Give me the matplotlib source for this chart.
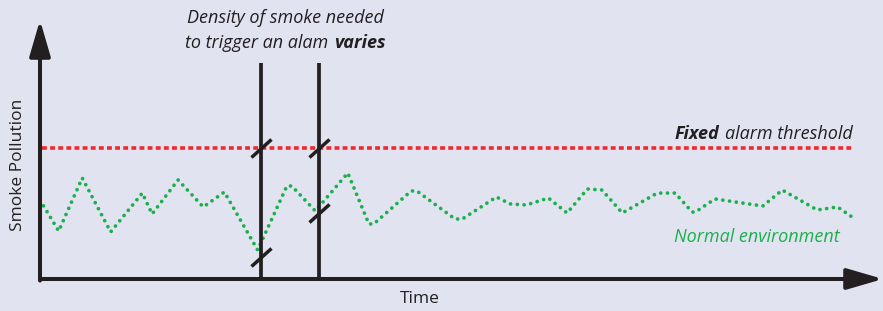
import matplotlib
matplotlib.use('Agg')
import matplotlib.pyplot as plt
from matplotlib.markers import MarkerStyle
from matplotlib.transforms import Affine2D
from matplotlib.offsetbox import TextArea, HPacker, VPacker, AnnotationBbox

# "Normal environment" smoke level over time (arbitrary units, threshold = 100)
time = [0, 2.3, 5.2, 8.7, 12.6, 13.8, 17.0, 20.1, 22.7, 26.8, 30.4, 31.0,
        33.9, 37.9, 40.5, 41.1, 45.7, 46.4, 51.1, 52.0, 56.2, 57.9, 59.9,
        62.6, 64.9, 67.4, 69.2, 71.7, 76.0, 78.2, 80.3, 80.7, 83.1, 89.0,
        91.4, 95.7, 98.2, 100]
pollution = [60.3, 36.6, 77.1, 35.9, 65.6, 49.6, 75.6, 55.0, 66.4, 22.1,
             71.0, 71.0, 51.9, 80.9, 42.0, 42.0, 67.2, 67.2, 45.8, 45.8,
             62.6, 57.3, 56.5, 61.8, 50.4, 68.7, 67.9, 50.4, 65.6, 65.6,
             51.1, 51.1, 61.1, 55.7, 67.9, 52.7, 55.0, 47.3]
threshold = 100

# the two "alarm" moments and where they cut the smoke curve
alarm_times = [27.2, 34.3]
alarm_crossings = [16.8, 50.4]
alarm_top = 165

BG = '#E1E3F1'
DARK = '#231F20'
GREEN = '#1BB04C'
RED = '#EE2B2E'
FONT = 'Open Sans'

fig = plt.figure(figsize=(8.83, 3.11), dpi=100, facecolor=BG)
ax = fig.add_axes([40 / 883, 32 / 311, 843 / 883, 259 / 311])
ax.set_facecolor(BG)
ax.axis('off')
ax.set_xlim(0, 103.8)
ax.set_ylim(0, 197.7)

# threshold and environment curves
ax.hlines(threshold, time[0] + 0.3, time[-1], color=RED, lw=2.6,
          linestyle=(0, (1.35, 0.9)))
ax.plot(time, pollution, color=GREEN, lw=2.7, linestyle=(0, (0.01, 1.8)),
        dash_capstyle='round')

# alarm lines with slash marks at the crossings
ax.vlines(alarm_times, 0, alarm_top, color=DARK, lw=2.7)
slash = MarkerStyle('_', transform=Affine2D().rotate_deg(43))
ax.plot(alarm_times, [threshold] * len(alarm_times), ls='none', marker=slash,
        ms=19, mew=2.5, color=DARK)
ax.plot(alarm_times, alarm_crossings, ls='none', marker=slash,
        ms=19, mew=2.5, color=DARK)

# axes with arrow heads
arrow = dict(arrowstyle='-|>,head_length=1.1,head_width=0.32', mutation_scale=20,
             lw=2.9, color=DARK, shrinkA=0, shrinkB=0)
ax.annotate('', xy=(0, 1), xytext=(0, -0.006), xycoords='axes fraction', arrowprops=arrow)
ax.annotate('', xy=(1, 0), xytext=(0, 0), xycoords='axes fraction', arrowprops=arrow)

fig.text(18 / 883, 1 - 165 / 311, 'Smoke Pollution', rotation=90, ha='center',
         va='center', fontsize=12.5, family=FONT, color=DARK)
fig.text(420 / 883, 1 - 299 / 311, 'Time', ha='center', va='center',
         fontsize=12.5, family=FONT, color=DARK)

ax.text(98.5, 28.2, 'Normal environment', ha='right', va='baseline',
        fontsize=13, family=FONT, style='italic', color=GREEN)


def txt(s, bold=False):
    return TextArea(s, textprops=dict(fontsize=13, family=FONT, style='italic',
                                      weight='bold' if bold else 'normal', color=DARK))


fixed = HPacker(children=[txt('Fixed', True), txt('alarm threshold')],
                align='baseline', pad=0, sep=4)
ax.add_artist(AnnotationBbox(fixed, (100.1, 103.5), box_alignment=(1, 0),
                             frameon=False, pad=0))

density = VPacker(children=[txt('Density of smoke needed'),
                            HPacker(children=[txt('to trigger an alam'), txt('varies', True)],
                                    align='baseline', pad=0, sep=4)],
                  align='center', pad=0, sep=5)
fig.add_artist(AnnotationBbox(density, (285 / 883, 1 - 9 / 311), xycoords='figure fraction',
                              box_alignment=(0.5, 1), frameon=False, pad=0))

fig.savefig('out.png', dpi=100, facecolor=BG)
